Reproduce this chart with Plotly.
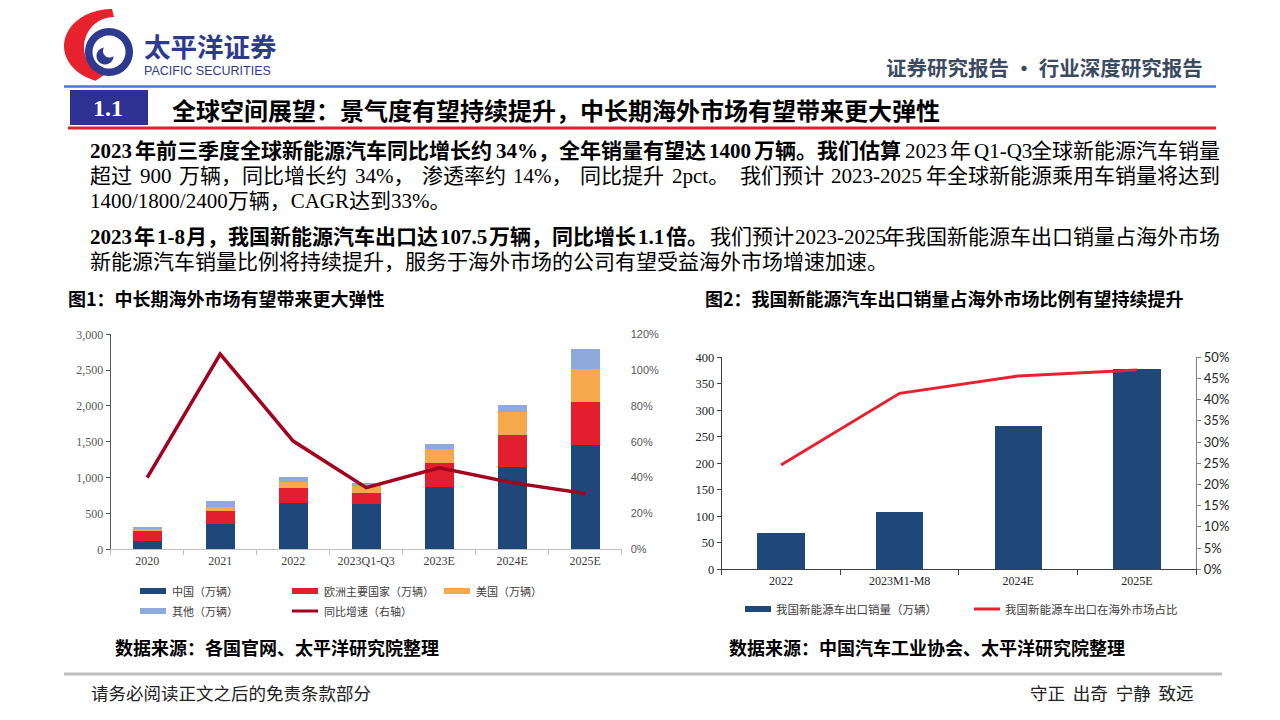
import re
import numpy as np
import plotly.graph_objects as go

W, H = 1280, 720

# ---------------- data ----------------
years1 = ["2020", "2021", "2022", "2023Q1-Q3", "2023E", "2024E", "2025E"]
china = [115, 353, 650, 628, 865, 1152, 1451]
europe = [136, 181, 205, 153, 335, 447, 608]
usa = [28, 60, 88, 102, 195, 312, 452]
other = [22, 80, 70, 38, 74, 102, 279]
growth = [0.40, 1.09, 0.604, 0.344, 0.455, 0.372, 0.312]

cats2 = ["2022", "2023M1-M8", "2024E", "2025E"]
exports = [68, 107.5, 270, 378]
share = [0.246, 0.415, 0.456, 0.470]

left_ticks = [0, 500, 1000, 1500, 2000, 2500, 3000]
right_ticks = [0, 50, 100, 150, 200, 250, 300, 350, 400]

C_CHINA = "#1f477a"
C_EU = "#e31e2f"
C_US = "#f6a94c"
C_OTHER = "#8eaadb"
C_GROWTH = "#a3001f"
C_SHARE = "#e8202f"

SERIF_CJK = "Liberation Serif, Noto Sans CJK SC"
CJK = "Noto Sans CJK SC"


def px(x):
    return x / W


def py(y):
    return 1 - y / H


fig = go.Figure()

# ---------------- left chart ----------------
for name, vals, col in [("中国（万辆）", china, C_CHINA),
                        ("欧洲主要国家（万辆）", europe, C_EU),
                        ("美国（万辆）", usa, C_US),
                        ("其他（万辆）", other, C_OTHER)]:
    fig.add_trace(go.Bar(x=years1, y=vals, name=name, marker=dict(color=col, line=dict(width=0)),
                         xaxis="x", yaxis="y", showlegend=False))
fig.add_trace(go.Scatter(x=years1, y=growth, mode="lines", name="同比增速（右轴）",
                         line=dict(color=C_GROWTH, width=3.5), xaxis="x", yaxis="y2", showlegend=False))

# ---------------- right chart ----------------
fig.add_trace(go.Bar(x=cats2, y=exports, name="我国新能源车出口销量（万辆）",
                     marker=dict(color=C_CHINA, line=dict(width=0)), xaxis="x2", yaxis="y3", showlegend=False))
fig.add_trace(go.Scatter(x=cats2, y=share, mode="lines", name="我国新能源车出口在海外市场占比",
                         line=dict(color=C_SHARE, width=3), xaxis="x2", yaxis="y4", showlegend=False))

shapes = []
annotations = []


def ann(x, y, text, size, color="#000000", family=CJK, xanchor="left", yanchor="middle", align="left"):
    annotations.append(dict(x=px(x), y=py(y), xref="paper", yref="paper", text=text, showarrow=False,
                            xanchor=xanchor, yanchor=yanchor, align=align,
                            font=dict(family=family, size=size, color=color)))


def rect(x0, y0, x1, y1, color, line=None):
    shapes.append(dict(type="rect", xref="paper", yref="paper", x0=px(x0), x1=px(x1), y0=py(y1), y1=py(y0),
                       fillcolor=color, line=dict(width=0) if line is None else line, layer="above"))


def hline(x0, x1, y, color, width):
    shapes.append(dict(type="line", xref="paper", yref="paper", x0=px(x0), x1=px(x1), y0=py(y), y1=py(y),
                       line=dict(color=color, width=width), layer="above"))


def poly(pts_list, color):
    s = ""
    for pts in pts_list:
        s += "M " + " L ".join(f"{px(x):.5f},{py(y):.5f}" for x, y in pts) + " Z "
    shapes.append(dict(type="path", xref="paper", yref="paper", path=s, fillcolor=color,
                       line=dict(width=0), layer="above"))


def circle_pts(cx, cy, r, reverse=False, n=60):
    t = np.linspace(0, 2 * np.pi, n, endpoint=False)
    if reverse:
        t = t[::-1]
    return list(zip(cx + r * np.cos(t), cy + r * np.sin(t)))


# ---------------- logo ----------------
t_out = np.radians(np.linspace(90, 250, 50))
outer = [(112 + 48 * np.cos(a), 46 - 37 * np.sin(a)) for a in t_out]
t_in = np.radians(np.linspace(250, 90, 50))
inner = [(114 + 30 * np.cos(a), 47 - 30 * np.sin(a)) for a in t_in]
poly([outer + inner], "#e8212e")
poly([circle_pts(109, 52, 24), circle_pts(109, 52, 16.5, reverse=True)], "#2e3a8f")
poly([circle_pts(105, 56, 8.5)], "#2e3a8f")
poly([circle_pts(109.5, 51, 6.5)], "#ffffff")
ann(142, 52, "<span style='font-size:26.5px'><b>太平洋证券</b></span><br>"
             "<span style='font-family:Liberation Sans;font-size:12.5px'>PACIFIC SECURITIES</span>",
    14, "#2e3a8f", xanchor="left")

# ---------------- header ----------------
ann(1205, 67, "<b>证券研究报告 • 行业深度研究报告</b>", 20.5, "#3b4b5f", xanchor="right")
hline(64, 1216, 86.5, "#4a78c2", 2.5)
rect(70, 90, 148, 125, "#2e3191")
ann(108, 108, "<b>1.1</b>", 24, "#ffffff", family="Liberation Serif", xanchor="center")
ann(170, 109, "<b>全球空间展望：景气度有望持续提升，中长期海外市场有望带来更大弹性</b>", 24, "#000000")
hline(68, 1216, 128, "#e31e2f", 3)


# ---------------- paragraphs ----------------
def est_width(s, size):
    s = re.sub(r"<[^>]+>", "", s)
    w = 0.0
    for ch in s:
        if ord(ch) > 0x2E80:
            w += 1.0
        elif ch.isdigit():
            w += 0.5
        elif ch == "%":
            w += 0.833
        elif ch in ".,":
            w += 0.25
        elif ch == "-":
            w += 0.333
        elif ch == "/":
            w += 0.278
        elif ch.isupper():
            w += 0.70
        elif ch.islower():
            w += 0.45
        else:
            w += 0.3
    return w * size


PSIZE = 21
X0, X1 = 88, 1222
PUNCT = "，。、：；"


def make_chunks(segments):
    """segments: list of (text, bold). Split at Latin/CJK boundaries, keep punctuation with previous run."""
    chunks = []
    for text, bold in segments:
        for m in re.finditer(r"[A-Za-z0-9%./\-]+|[^A-Za-z0-9%./\-]+", text):
            piece = m.group()
            lead = ""
            while piece and piece[0] in PUNCT and chunks:
                lead += piece[0]
                piece = piece[1:]
            if lead:
                t, b = chunks[-1]
                if b == bold:
                    chunks[-1] = (t + lead, b)
                else:
                    piece = lead + piece
            if piece:
                chunks.append((piece, bold))
    return chunks


def place_line(segments, y, justify=True):
    chunks = make_chunks(segments) if justify else segments
    texts = [("<b>%s</b>" % t) if b else t for t, b in chunks]
    widths = [est_width(t, PSIZE) for t, _ in chunks]
    n = len(chunks)
    gap = (X1 - X0 - sum(widths)) / (n - 1) if (justify and n > 1) else 0
    x = X0
    for i, (t, w) in enumerate(zip(texts, widths)):
        if justify and n > 1 and i == n - 1:
            ann(X1, y, t, PSIZE, family=SERIF_CJK, xanchor="right")
        else:
            ann(x, y, t, PSIZE, family=SERIF_CJK, xanchor="left")
        x += w + gap


place_line([("2023年前三季度全球新能源汽车同比增长约34%，全年销量有望达1400万辆。我们估算", True),
            ("2023年Q1-Q3全球新能源汽车销量", False)], 151)
place_line([("超过900万辆，同比增长约34%，渗透率约14%，同比提升2pct。我们预计2023-2025年全球新能源乘用车销量将达到", False)], 176)
place_line([("1400/1800/2400万辆，CAGR达到33%。", False)], 201, justify=False)
place_line([("2023年1-8月，我国新能源汽车出口达107.5万辆，同比增长1.1倍。", True),
            ("我们预计2023-2025年我国新能源车出口销量占海外市场", False)], 237)
place_line([("新能源汽车销量比例将持续提升，服务于海外市场的公司有望受益海外市场增速加速。", False)], 262, justify=False)

# ---------------- figure captions ----------------
ann(66, 298, "<b>图1：中长期海外市场有望带来更大弹性</b>", 18)
ann(703, 298, "<b>图2：我国新能源汽车出口销量占海外市场比例有望持续提升</b>", 18)

# ---------------- left legend ----------------
LCOL = "#404040"
rect(140, 588, 166, 594, C_CHINA)
ann(170, 591, "中国（万辆）", 11, LCOL)
rect(292, 588, 318, 594, C_EU)
ann(322, 591, "欧洲主要国家（万辆）", 11, LCOL)
rect(444, 588, 470, 594, C_US)
ann(474, 591, "美国（万辆）", 11, LCOL)
rect(140, 608, 166, 614, C_OTHER)
ann(170, 611, "其他（万辆）", 11, LCOL)
hline(292, 318, 611, C_GROWTH, 3)
ann(322, 611, "同比增速（右轴）", 11, LCOL)

# ---------------- right legend ----------------
rect(745, 606, 771, 612, C_CHINA)
ann(774, 609, "我国新能源车出口销量（万辆）", 11.5, LCOL)
hline(974, 1000, 609, C_SHARE, 3)
ann(1003, 609, "我国新能源车出口在海外市场占比", 11.5, LCOL)

# ---------------- sources & footer ----------------
ann(113, 647, "<b>数据来源：各国官网、太平洋研究院整理</b>", 18)
ann(727, 647, "<b>数据来源：中国汽车工业协会、太平洋研究院整理</b>", 18)
hline(64, 1222, 674, "#bdbdbd", 3)
ann(89, 692, "请务必阅读正文之后的免责条款部分", 17.5, "#222222")
ann(1196, 692, "守正  出奇  宁静  致远", 17.5, "#222222", xanchor="right")

axis_common = dict(showgrid=False, zeroline=False, fixedrange=True, automargin=False)

fig.update_layout(
    width=W, height=H, autosize=False,
    margin=dict(l=0, r=0, t=0, b=0, pad=0, autoexpand=False),
    paper_bgcolor="#ffffff", plot_bgcolor="rgba(0,0,0,0)",
    font=dict(family=CJK, size=12, color="#404040"),
    barmode="stack", bargap=0.6,
    showlegend=False,
    xaxis=dict(domain=[px(110.7), px(621.7)], anchor="y", type="category",
               showline=True, linecolor="#bfbfbf", linewidth=1,
               ticks="outside", tickson="boundaries", ticklen=5, tickcolor="#bfbfbf",
               tickfont=dict(family="Liberation Serif", size=12, color="#404040"), **axis_common),
    yaxis=dict(domain=[py(549.3), py(334.3)], anchor="x", range=[0, 3000],
               tickvals=left_ticks, tickformat=",",
               showline=True, linecolor="#595959", linewidth=1, ticks="outside", ticklen=4,
               tickcolor="#595959",
               tickfont=dict(family="Liberation Serif", size=12, color="#595959"), **axis_common),
    yaxis2=dict(overlaying="y", anchor="x", side="right", range=[0, 1.2], dtick=0.2, tickformat=".0%",
                showline=False, ticks="", ticklabelstandoff=8,
                tickfont=dict(family="Liberation Sans", size=11, color="#595959"), **axis_common),
    xaxis2=dict(domain=[px(721.7), px(1196.2)], anchor="y3", type="category",
                showline=True, linecolor="#404040", linewidth=1,
                ticks="outside", tickson="boundaries", ticklen=5, tickcolor="#404040",
                tickfont=dict(family="Liberation Serif", size=12, color="#262626"), **axis_common),
    yaxis3=dict(domain=[py(569.3), py(357.3)], anchor="x2", range=[0, 400], tickvals=right_ticks,
                showline=True, linecolor="#404040", linewidth=1, ticks="outside", ticklen=4,
                tickcolor="#404040",
                tickfont=dict(family="Liberation Serif", size=12.5, color="#262626"), **axis_common),
    yaxis4=dict(overlaying="y3", anchor="x2", side="right", range=[0, 0.5], dtick=0.05, tickformat=".0%",
                showline=True, linecolor="#808080", linewidth=1, ticks="outside", ticklen=4,
                tickcolor="#808080",
                tickfont=dict(family="Lato, Liberation Sans", size=13, color="#262626"), **axis_common),
    shapes=shapes,
    annotations=annotations,
)

fig.write_html("out.html", config={"displayModeBar": False},
               post_script="document.body.style.margin='0px';document.body.style.padding='0px';"
                           "document.body.style.overflow='hidden';")
